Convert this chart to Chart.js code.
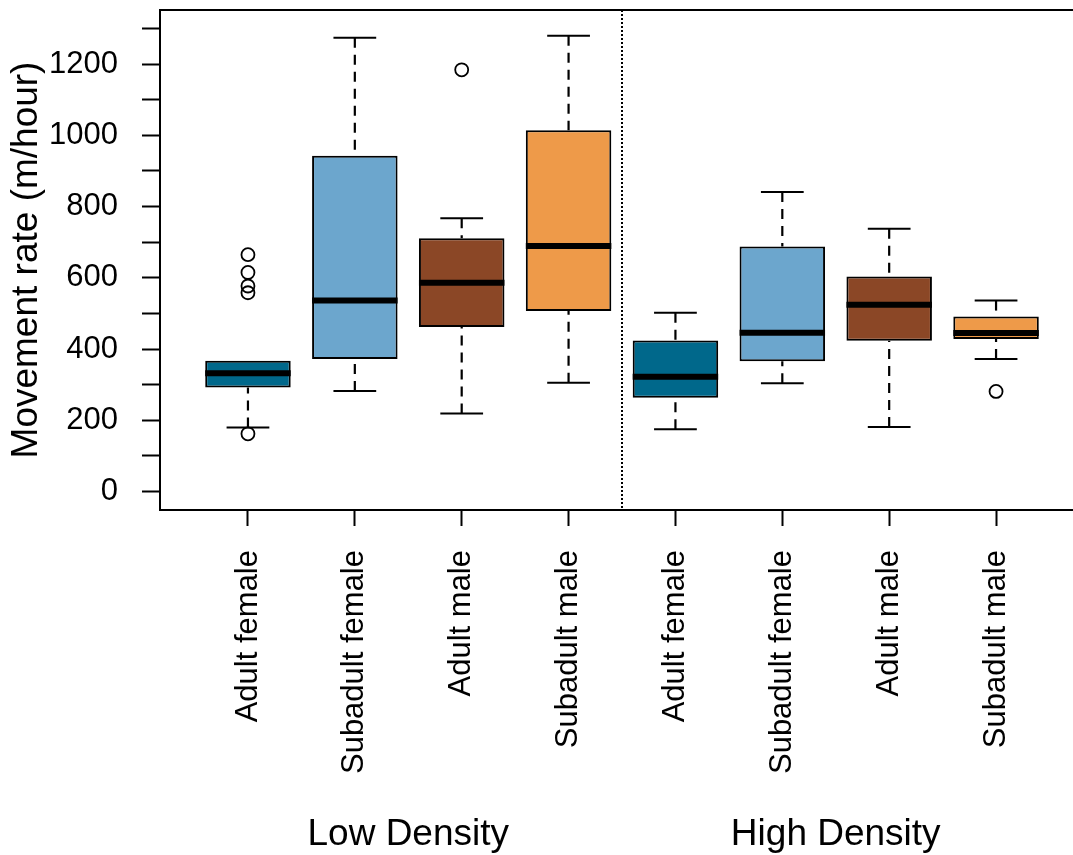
<!DOCTYPE html>
<html>
<head>
<meta charset="utf-8">
<script src="https://cdn.jsdelivr.net/npm/chart.js@4"></script>
<style>
  html, body { margin: 0; padding: 0; background: #fff; overflow: hidden; }
  canvas { display: block; }
</style>
</head>
<body>
<canvas id="grafico" width="1073" height="855"></canvas>
<script>
// categorias y posiciones en el eje x
const categorias = ["Adult female", "Subadult female", "Adult male", "Subadult male",
                    "Adult female", "Subadult female", "Adult male", "Subadult male"];
const posiciones = [1, 2, 3, 4, 5, 6, 7, 8];
const grupos = ["Low Density", "High Density"];
const posGrupos = [[1, 2, 3, 4], [5, 6, 7, 8]];
const divisor = 4.5;

// estadisticos de cada caja (m/hour)
const bigoteInf = [180, 282, 219, 305, 175, 304, 181, 372];
const q1 = [292, 372, 462, 507, 263, 366, 423, 428];
const mediana = [332, 536, 586, 689, 322, 446, 524, 445];
const q3 = [367, 943, 711, 1014, 424, 688, 604, 491];
const bigoteSup = [367, 1274, 767, 1280, 502, 841, 738, 536];
const atipicos = [[665, 615, 577, 558, 162], [], [1184], [], [], [], [], [281]];

// ticks del eje y
const ticksY = [0, 100, 200, 300, 400, 500, 600, 700, 800, 900, 1000, 1100, 1200, 1300];

const colores = ["#00688B", "#6CA6CD", "#8B4726", "#EE9A49",
                 "#00688B", "#6CA6CD", "#8B4726", "#EE9A49"];

const fuente = "'Liberation Sans', Arial, sans-serif";

const cajas = posiciones.map((x, i) => ({ x: x, y: [q1[i], q3[i]] }));
const puntos = [];
atipicos.forEach((lista, i) => {
  lista.forEach((v) => puntos.push({ x: posiciones[i], y: v }));
});

// dibuja un bigote (linea discontinua + tope) desde el extremo hasta la caja
function dibujarBigote(ctx, x, medio, yExtremo, yCaja) {
  if (Math.abs(yExtremo - yCaja) < 1) return; // oculto por el borde de la caja
  ctx.lineWidth = 2.2;
  ctx.setLineDash([10, 7]);
  ctx.beginPath();
  ctx.moveTo(x, yExtremo);
  ctx.lineTo(x, yCaja);
  ctx.stroke();
  ctx.setLineDash([]);
  ctx.lineWidth = 2;
  ctx.beginPath();
  ctx.moveTo(x - medio, yExtremo);
  ctx.lineTo(x + medio, yExtremo);
  ctx.stroke();
}

// bigotes, medianas, marco y etiquetas de grupo
const pluginCajas = {
  id: "pluginCajas",
  beforeDatasetsDraw(chart) {
    const ctx = chart.ctx;
    const xs = chart.scales.x;
    const ys = chart.scales.y;
    const area = chart.chartArea;
    ctx.save();
    // linea divisoria punteada
    ctx.strokeStyle = "#000";
    ctx.lineWidth = 2;
    ctx.setLineDash([2, 2]);
    const xd = Math.round(xs.getPixelForValue(divisor));
    ctx.beginPath();
    ctx.moveTo(xd, area.top);
    ctx.lineTo(xd, area.bottom);
    ctx.stroke();
    // bigotes
    posiciones.forEach((p, i) => {
      const x = xs.getPixelForValue(p);
      const medio = xs.getPixelForValue(p + 0.2) - x;
      dibujarBigote(ctx, x, medio, ys.getPixelForValue(bigoteSup[i]), ys.getPixelForValue(q3[i]));
      dibujarBigote(ctx, x, medio, ys.getPixelForValue(bigoteInf[i]), ys.getPixelForValue(q1[i]));
    });
    ctx.restore();
  },
  afterDatasetsDraw(chart) {
    const ctx = chart.ctx;
    const xs = chart.scales.x;
    const ys = chart.scales.y;
    const area = chart.chartArea;
    ctx.save();
    // medianas
    ctx.strokeStyle = "#000";
    ctx.lineWidth = 6;
    posiciones.forEach((p, i) => {
      const y = ys.getPixelForValue(mediana[i]);
      ctx.beginPath();
      ctx.moveTo(xs.getPixelForValue(p - 0.4), y);
      ctx.lineTo(xs.getPixelForValue(p + 0.4), y);
      ctx.stroke();
    });
    // linea superior del marco
    ctx.lineWidth = 2;
    ctx.beginPath();
    ctx.moveTo(area.left - 1, area.top);
    ctx.lineTo(area.right, area.top);
    ctx.stroke();
    // etiquetas de grupo
    ctx.fillStyle = "#000";
    ctx.font = "37px " + fuente;
    ctx.textAlign = "center";
    ctx.textBaseline = "alphabetic";
    grupos.forEach((g, k) => {
      const centro = posGrupos[k].reduce((a, b) => a + b, 0) / posGrupos[k].length;
      ctx.fillText(g, xs.getPixelForValue(centro), 845);
    });
    ctx.restore();
  },
};

const ctx = document.getElementById("grafico").getContext("2d");
const grafico = new Chart(ctx, {
  type: "bar",
  data: {
    datasets: [
      {
        type: "scatter",
        data: puntos,
        pointStyle: "circle",
        radius: 6.5,
        borderWidth: 1.8,
        borderColor: "#000",
        backgroundColor: "rgba(0,0,0,0)",
      },
      {
        data: cajas,
        backgroundColor: colores,
        borderColor: "#000",
        borderWidth: 2,
        borderSkipped: false,
        categoryPercentage: 1,
        barPercentage: 0.8,
      },
    ],
  },
  options: {
    responsive: false,
    animation: false,
    devicePixelRatio: 1,
    layout: { autoPadding: false, padding: { top: 10, left: 0, right: 0, bottom: 0 } },
    plugins: {
      legend: { display: false },
      tooltip: { enabled: false },
    },
    scales: {
      x: {
        type: "linear",
        offset: false,
        min: 0.177,
        max: 8.72,
        afterBuildTicks: (scale) => {
          scale.ticks = posiciones.map((v) => ({ value: v }));
        },
        afterFit: (scale) => {
          scale.height = 345;
          scale.paddingLeft = 0;
          scale.paddingRight = 0;
        },
        ticks: {
          autoSkip: false,
          minRotation: 90,
          maxRotation: 90,
          padding: 24,
          color: "#000",
          font: { family: fuente, size: 31 },
          callback: (value, index) => categorias[index],
        },
        grid: {
          offset: false,
          drawOnChartArea: false,
          drawTicks: true,
          tickLength: 16,
          tickWidth: 2,
          tickColor: "#000",
        },
        border: { display: true, color: "#000", width: 2 },
      },
      y: {
        min: -52,
        max: 1352,
        afterBuildTicks: (scale) => {
          scale.ticks = ticksY.map((v) => ({ value: v }));
        },
        afterFit: (scale) => {
          scale.width = 160;
          scale.paddingTop = 0;
          scale.paddingBottom = 0;
        },
        ticks: {
          autoSkip: false,
          padding: 24,
          color: "#000",
          font: { family: fuente, size: 31 },
          callback: (value) => (value % 200 === 0 ? String(value) : ""),
        },
        grid: {
          drawOnChartArea: false,
          drawTicks: true,
          tickLength: 18,
          tickWidth: 2,
          tickColor: "#000",
        },
        border: { display: true, color: "#000", width: 2 },
        title: {
          display: true,
          text: "Movement rate (m/hour)",
          color: "#000",
          font: { family: fuente, size: 37 },
          padding: { top: 5, bottom: 0 },
        },
      },
    },
  },
  plugins: [pluginCajas],
});
</script>
</body>
</html>
